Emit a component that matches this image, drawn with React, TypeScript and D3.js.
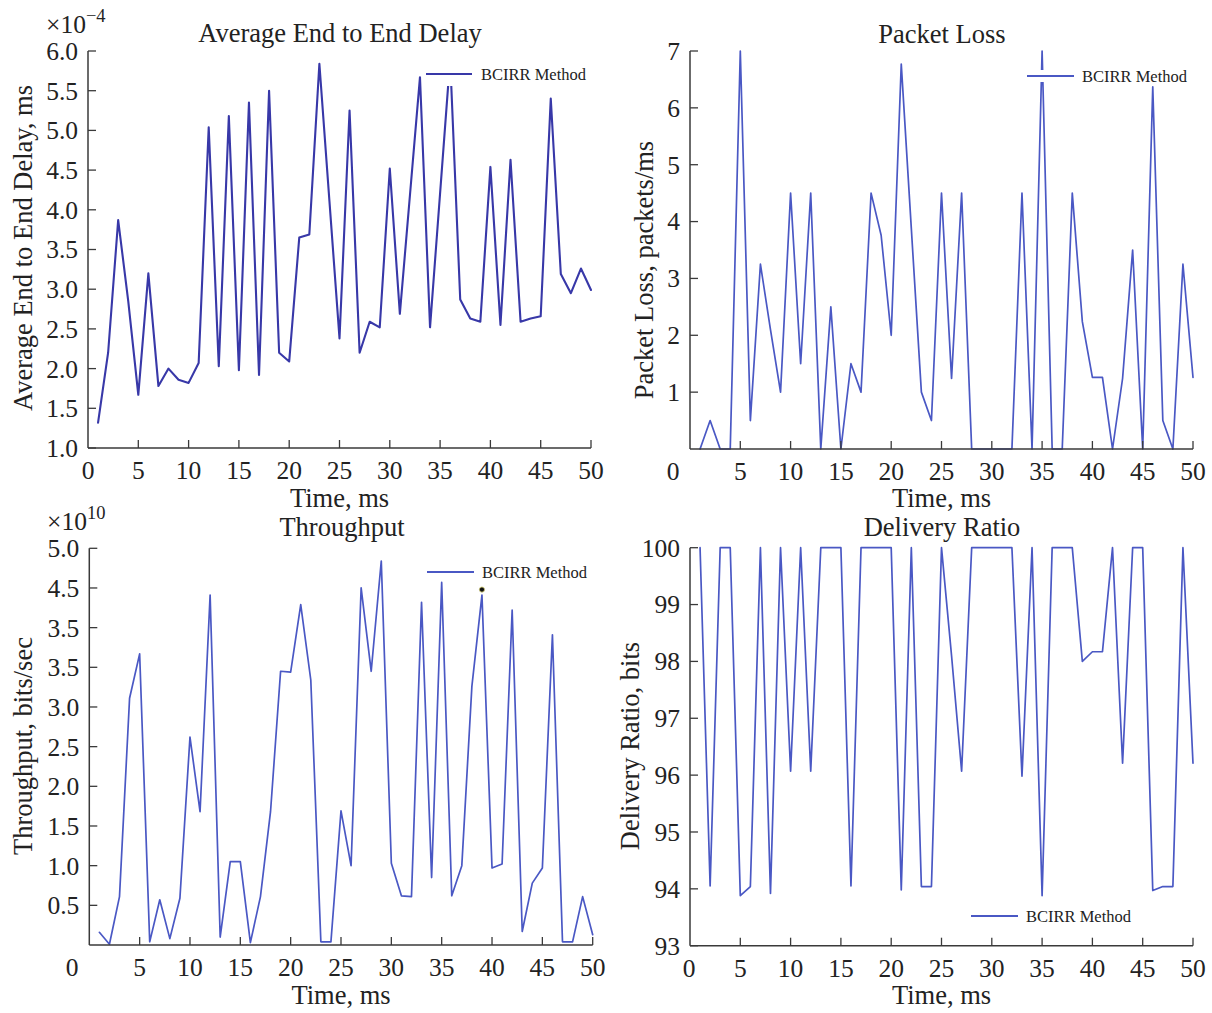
import React from 'react';
import * as d3 from 'd3';

// ---------- data ----------
const time = [1,2,3,4,5,6,7,8,9,10,11,12,13,14,15,16,17,18,19,20,21,22,23,24,25,26,27,28,29,30,31,32,33,34,35,36,37,38,39,40,41,42,43,44,45,46,47,48,49,50];

// Average End to End Delay (x1e-4 ms)
const delayValues = [1.32,2.2,3.87,2.85,1.67,3.2,1.78,2.0,1.86,1.82,2.07,5.04,2.03,5.18,1.98,5.35,1.92,5.5,2.2,2.09,3.65,3.69,5.84,4.11,2.38,5.25,2.2,2.59,2.52,4.52,2.69,4.18,5.67,2.52,4.21,5.9,2.87,2.63,2.59,4.54,2.55,4.63,2.59,2.63,2.66,5.4,3.19,2.95,3.26,2.99];

// Packet Loss (packets/ms)
const packetLossValues = [0,0.5,0,0,7,0.5,3.25,2.1,1.0,4.5,1.5,4.5,0,2.5,0,1.5,1.0,4.5,3.76,2.0,6.77,3.88,1.0,0.5,4.5,1.24,4.5,0,0,0,0,0,4.5,0,7,0,0,4.5,2.24,1.26,1.26,0,1.24,3.5,0,6.37,0.5,0,3.25,1.26];

// Throughput (x1e10 bits/sec)
const throughputValues = [0.16,0.01,0.61,3.11,3.67,0.04,0.57,0.08,0.59,2.62,1.68,4.41,0.1,1.05,1.05,0.03,0.61,1.68,3.45,3.44,4.29,3.34,0.04,0.04,1.69,1.0,4.5,3.45,4.84,1.03,0.62,0.61,4.32,0.85,4.57,0.62,1.0,3.26,4.41,0.97,1.02,4.22,0.17,0.78,0.97,3.91,0.04,0.04,0.61,0.13];
const throughputMarkerX = [39];
const throughputMarkerY = [4.48];

// Delivery Ratio (bits)
const deliveryValues = [100,94.05,100,100,93.88,94.04,100,93.92,100,96.07,100,96.07,100,100,100,94.05,100,100,100,100,93.98,100,94.04,94.04,100,98.1,96.07,100,100,100,100,100,95.98,100,93.88,100,100,100,98.0,98.17,98.17,100,96.21,100,100,93.97,94.04,94.04,100,96.21];

// ticks
const xTicks = [5,10,15,20,25,30,35,40,45,50];
const xTickLabels = ['5','10','15','20','25','30','35','40','45','50'];
const delayTicks = [1.0,1.5,2.0,2.5,3.0,3.5,4.0,4.5,5.0,5.5,6.0];
const delayTickLabels = ['1.0','1.5','2.0','2.5','3.0','3.5','4.0','4.5','5.0','5.5','6.0'];
const lossTicks = [1,2,3,4,5,6,7];
const lossTickLabels = ['1','2','3','4','5','6','7'];
const throughputTicks = [0.5,1.0,1.5,2.0,2.5,3.0,3.5,4.0,4.5,5.0];
const throughputTickLabels = ['0.5','1.0','1.5','2.0','2.5','3.0','3.5','3.5','4.5','5.0'];
const deliveryTicks = [93,94,95,96,97,98,99,100];
const deliveryTickLabels = ['93','94','95','96','97','98','99','100'];

const legendLabel = 'BCIRR Method';
const FONT = '"Liberation Serif", "Times New Roman", serif';

type PanelCfg = {
  values: number[];
  x0: number; x1: number; yTop: number; yBottom: number;
  yDomain: [number, number];
  yTicks: number[]; yTickLabels: string[];
  zeroLabelX: number;
  title: string; titleX: number; titleY: number;
  xLabelY: number;
  yLabel: string; yLabelX: number; yLabelY: number;
  color: string; width: number;
  legend: { lx0: number; lx1: number; ly: number; tx: number; box?: [number, number, number, number] };
  multiplier?: { x: number; y: number; exp: string };
  markers?: { xs: number[]; ys: number[] };
};

function Panel({ cfg }: { cfg: PanelCfg }) {
  const x = d3.scaleLinear().domain([0, 50]).range([cfg.x0, cfg.x1]);
  const y = d3.scaleLinear().domain(cfg.yDomain).range([cfg.yBottom, cfg.yTop]);
  const path = d3.line<number>().x((_, i) => x(time[i])).y((d) => y(d))(cfg.values) || '';
  const axisColor = '#3a3a3a';
  const tickLen = 8;
  const tickFont = 25.5;
  const labelFont = 26.5;
  return (
    <g>
      <path d={path} fill="none" stroke={cfg.color} strokeWidth={cfg.width} strokeLinejoin="round" strokeLinecap="round" />
      {cfg.markers && cfg.markers.xs.map((mx, i) => (
        <circle key={i} cx={x(mx)} cy={y(cfg.markers!.ys[i])} r={2.6} fill="#111" stroke="#d8d27a" strokeWidth={0.8} />
      ))}
      {cfg.legend.box && (
        <rect x={cfg.legend.box[0]} y={cfg.legend.box[1]} width={cfg.legend.box[2] - cfg.legend.box[0]} height={cfg.legend.box[3] - cfg.legend.box[1]} fill="#fff" />
      )}
      <line x1={cfg.legend.lx0} x2={cfg.legend.lx1} y1={cfg.legend.ly} y2={cfg.legend.ly} stroke={cfg.color} strokeWidth={2} />
      <text x={cfg.legend.tx} y={cfg.legend.ly} dy="0.35em" fontSize={16.5} fontFamily={FONT} fill="#222">{legendLabel}</text>
      {/* axes */}
      <line x1={cfg.x0} x2={cfg.x0} y1={cfg.yTop} y2={cfg.yBottom} stroke={axisColor} strokeWidth={1.5} />
      <line x1={cfg.x0} x2={cfg.x1} y1={cfg.yBottom} y2={cfg.yBottom} stroke={axisColor} strokeWidth={1.5} />
      {cfg.yTicks.map((t, i) => (
        <g key={'y' + i}>
          <line x1={cfg.x0} x2={cfg.x0 + tickLen} y1={y(t)} y2={y(t)} stroke={axisColor} strokeWidth={1.3} />
          <text x={cfg.x0 - 10} y={y(t)} dy="0.35em" textAnchor="end" fontSize={tickFont} fontFamily={FONT} fill="#222">{cfg.yTickLabels[i]}</text>
        </g>
      ))}
      {xTicks.map((t, i) => (
        <g key={'x' + i}>
          <line x1={x(t)} x2={x(t)} y1={cfg.yBottom} y2={cfg.yBottom - tickLen} stroke={axisColor} strokeWidth={1.3} />
          <text x={x(t)} y={cfg.yBottom + 22} dy="0.35em" textAnchor="middle" fontSize={tickFont} fontFamily={FONT} fill="#222">{xTickLabels[i]}</text>
        </g>
      ))}
      <text x={cfg.zeroLabelX} y={cfg.yBottom + 22} dy="0.35em" textAnchor="middle" fontSize={tickFont} fontFamily={FONT} fill="#222">0</text>
      <text x={cfg.titleX} y={cfg.titleY} textAnchor="middle" fontSize={labelFont} fontFamily={FONT} fill="#222">{cfg.title}</text>
      <text x={(cfg.x0 + cfg.x1) / 2} y={cfg.xLabelY} textAnchor="middle" fontSize={labelFont} fontFamily={FONT} fill="#222">Time, ms</text>
      <text transform={`translate(${cfg.yLabelX},${cfg.yLabelY}) rotate(-90)`} textAnchor="middle" fontSize={labelFont} fontFamily={FONT} fill="#222">{cfg.yLabel}</text>
      {cfg.multiplier && (
        <text x={cfg.multiplier.x} y={cfg.multiplier.y} fontSize={tickFont} fontFamily={FONT} fill="#222">
          ×10<tspan fontSize={18.5} dy={-11}>{cfg.multiplier.exp}</tspan>
        </text>
      )}
    </g>
  );
}

const panels: PanelCfg[] = [
  {
    values: delayValues, x0: 88, x1: 591, yTop: 51, yBottom: 448, yDomain: [1, 6],
    yTicks: delayTicks, yTickLabels: delayTickLabels, zeroLabelX: 88,
    title: 'Average End to End Delay', titleX: 340, titleY: 42, xLabelY: 507,
    yLabel: 'Average End to End Delay, ms', yLabelX: 31.5, yLabelY: 248,
    color: '#3838a8', width: 2.1,
    legend: { lx0: 426, lx1: 472, ly: 74, tx: 481, box: [423, 52, 592, 86] },
    multiplier: { x: 46, y: 32.5, exp: '−4' },
  },
  {
    values: packetLossValues, x0: 690, x1: 1193, yTop: 51, yBottom: 449, yDomain: [0, 7],
    yTicks: lossTicks, yTickLabels: lossTickLabels, zeroLabelX: 673,
    title: 'Packet Loss', titleX: 942, titleY: 43, xLabelY: 507,
    yLabel: 'Packet Loss, packets/ms', yLabelX: 653, yLabelY: 270,
    color: '#4a58c4', width: 1.7,
    legend: { lx0: 1027, lx1: 1074, ly: 76, tx: 1082, box: [1020, 70, 1198, 82] },
  },
  {
    values: throughputValues, x0: 89.3, x1: 592.7, yTop: 548.3, yBottom: 945, yDomain: [0, 5],
    yTicks: throughputTicks, yTickLabels: throughputTickLabels, zeroLabelX: 72,
    title: 'Throughput', titleX: 342, titleY: 536, xLabelY: 1004,
    yLabel: 'Throughput, bits/sec', yLabelX: 31.5, yLabelY: 746,
    color: '#4a58c4', width: 1.7,
    legend: { lx0: 427, lx1: 474, ly: 572, tx: 482 },
    multiplier: { x: 47, y: 530, exp: '10' },
    markers: { xs: throughputMarkerX, ys: throughputMarkerY },
  },
  {
    values: deliveryValues, x0: 690, x1: 1193, yTop: 547.7, yBottom: 945.7, yDomain: [93, 100],
    yTicks: deliveryTicks, yTickLabels: deliveryTickLabels, zeroLabelX: 689,
    title: 'Delivery Ratio', titleX: 942, titleY: 536, xLabelY: 1004,
    yLabel: 'Delivery Ratio, bits', yLabelX: 639, yLabelY: 746,
    color: '#4a58c4', width: 1.7,
    legend: { lx0: 971, lx1: 1018, ly: 916, tx: 1026 },
  },
];

export default function App() {
  return (
    <svg width={1212} height={1013} style={{ position: 'absolute', left: 0, top: 0, background: '#fff' }}>
      <rect x={0} y={0} width={1212} height={1013} fill="#fff" />
      {panels.map((p, i) => <Panel key={i} cfg={p} />)}
    </svg>
  );
}
